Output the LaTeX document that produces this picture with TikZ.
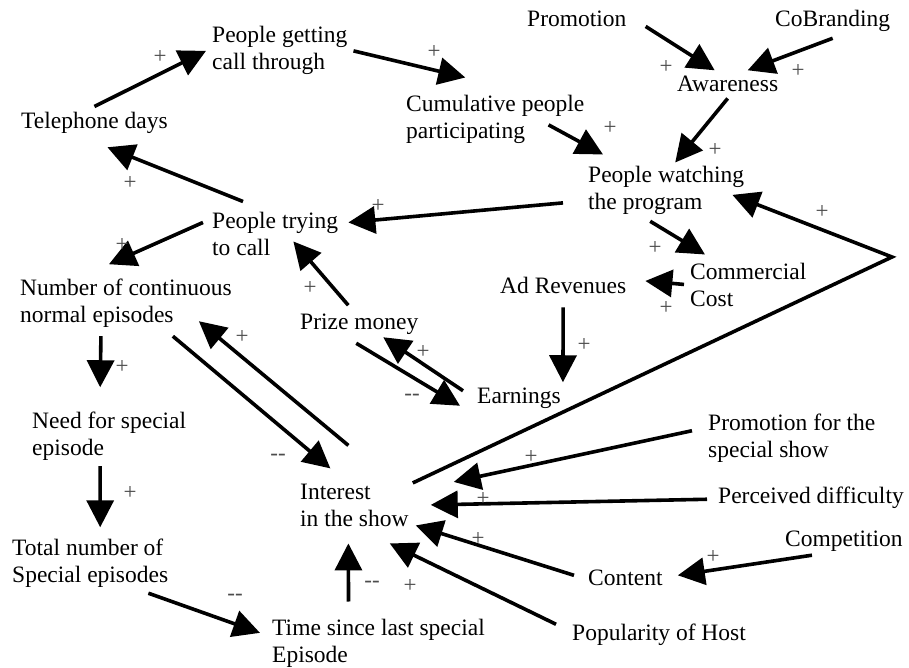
\documentclass[tikz,border=0pt]{standalone}
\usepackage{fontspec}
\setmainfont{Liberation Serif}
\usetikzlibrary{arrows.meta}

\begin{document}
\begin{tikzpicture}[x=1pt,y=-1pt,
	var/.style={anchor=base west, align=left, inner sep=6pt, font=\fontsize{23.5}{27}\selectfont},
	link/.style={-{Triangle[length=27pt,width=27pt]}, line width=3.6pt},
	sign/.style={inner sep=0pt, text=black!70, font=\fontsize{23}{23}\selectfont}]
	\useasboundingbox (0,0) rectangle (909,668);
%
	\node[var] (tel) at (15,129) {Telephone days};
	\node[var] (get) at (206,70) {People getting\\call through};
	\node[var] (cum) at (400,139) {Cumulative people\\participating};
	\node[var] (pro) at (521,27) {Promotion};
	\node[var] (cob) at (769,27) {CoBranding};
	\node[var] (awa) at (671,92) {Awareness};
	\node[var] (wat) at (582,210) {People watching\\the program};
	\node[var] (try) at (206,255) {People trying\\to call};
	\node[var] (com) at (684,306) {Commercial\\Cost};
	\node[var] (adr) at (494,293) {Ad Revenues};
	\node[var] (num) at (14,322) {Number of continuous\\normal episodes};
	\node[var] (pri) at (294,329) {Prize money};
	\node[var] (ear) at (471,403) {Earnings};
	\node[var] (nee) at (26,455) {Need for special\\episode};
	\node[var] (tot) at (6,582) {Total number of\\Special episodes};
	\node[var] (int) at (294,526) {Interest\\in the show};
	\node[var] (tim) at (266,662) {Time since last special\\Episode};
	\node[var] (pss) at (702,457) {Promotion for the\\special show};
	\node[var] (dif) at (712,503) {Perceived difficulty};
	\node[var] (cpt) at (779,546) {Competition};
	\node[var] (con) at (582,585) {Content};
	\node[var] (pop) at (566,640) {Popularity of Host};
	\coordinate (bend) at (892,257);
%
	\draw[link] (tel.north) -- (get.west);
	\draw[link] (get.east) -- ([shift={(-30,-12)}]cum.north);
	\draw[link] ([shift={(-42,5)}]cum.east) -- ([shift={(21,-6)}]wat.north west);
	\draw[link] ([shift={(13,-7)}]pro.south east) -- ([shift={(-13,0)}]awa.north);
	\draw[link] (cob.south) -- ([shift={(20,0)}]awa.north);
	\draw[link] (awa.south) -- ([shift={(9,2)}]wat.north);
	\draw[link] ([shift={(-19,12)}]wat.west) -- ([shift={(4,-11)}]try.east);
	\draw[link] ([shift={(37,-4)}]try.north west) -- ([shift={(13,7)}]tel.south);
	\draw[link] ([shift={(-3,-11)}]try.west) -- ([shift={(-17,-8)}]num.north);
	\draw[link] ([shift={(-11,-2)}]pri.north) -- ([shift={(-51,8)}]try.east);
	\draw[link] ([shift={(-16,0)}]wat.south) -- ([shift={(21,-2)}]com.north west);
	\draw[link] (com.west) -- ([shift={(13,-4)}]adr.east);
	\draw[link] ([shift={(0,8)}]adr.south) -- ([shift={(-4,1)}]ear.north east);
	\draw[link] ([shift={(-8,-7)}]ear.west) -- ([shift={(24,-3)}]pri.south);
	\draw[link] ([shift={(-3,3)}]pri.south) -- ([shift={(-11,8)}]ear.west);
	\draw[link] ([shift={(-65,3)}]num.south east) -- ([shift={(-24,-9)}]int.north);
	\draw[link] ([shift={(-6,-32)}]int.north) -- ([shift={(-39,-12)}]num.south east);
	\draw[link] ([shift={(-25,3)}]num.south) -- ([shift={(-9,-18)}]nee.north);
	\draw[link] ([shift={(-9,0)}]nee.south) -- ([shift={(10,-5)}]tot.north);
	\draw[link] ([shift={(-26,0)}]tot.south east) -- ([shift={(-6,-10)}]tim.west);
	\draw[link] ([shift={(-30,-11)}]tim.north) -- ([shift={(-6,11)}]int.south);
	\draw[link] ([shift={(-2,-22)}]int.east) -- (bend) -- ([shift={(-18,4)}]wat.east);
	\draw[link] ([shift={(-10,-7)}]pss.west) -- ([shift={(39,-23)}]int.east);
	\draw[link] ([shift={(-5,2)}]dif.west) -- ([shift={(16,0)}]int.east);
	\draw[link] ([shift={(-8,-2)}]con.west) -- ([shift={(1,-7)}]int.south east);
	\draw[link] ([shift={(-10,7)}]pop.north west) -- ([shift={(-25,11)}]int.south east);
	\draw[link] ([shift={(-32,-2)}]cpt.south) -- ([shift={(9,-2)}]con.east);
%
	\node[sign] (s-telget) at (160,57) {+};
	\node[sign] (s-getcum) at (434,52) {+};
	\node[sign] (s-cumwat) at (610,128) {+};
	\node[sign] (s-proawa) at (666,67) {+};
	\node[sign] (s-cobawa) at (798,71) {+};
	\node[sign] (s-awawat) at (715,150) {+};
	\node[sign] (s-wattry) at (378,206) {+};
	\node[sign] (s-trytel) at (130,183) {+};
	\node[sign] (s-trynum) at (122,245) {+};
	\node[sign] (s-pritry) at (310,288) {+};
	\node[sign] (s-watcom) at (655,248) {+};
	\node[sign] (s-comadr) at (666,308) {+};
	\node[sign] (s-adrear) at (584,345) {+};
	\node[sign] (s-earpri) at (423,352) {+};
	\node[sign] (s-priear) at (412,397) {-{}-};
	\node[sign] (s-numint) at (278,457) {-{}-};
	\node[sign] (s-intnum) at (242,337) {+};
	\node[sign] (s-numnee) at (122,367) {+};
	\node[sign] (s-neetot) at (130,493) {+};
	\node[sign] (s-tottim) at (235,597) {-{}-};
	\node[sign] (s-timint) at (372,584) {-{}-};
	\node[sign] (s-intwat) at (822,212) {+};
	\node[sign] (s-pssint) at (531,457) {+};
	\node[sign] (s-difint) at (483,499) {+};
	\node[sign] (s-conint) at (478,539) {+};
	\node[sign] (s-popint) at (410,586) {+};
	\node[sign] (s-cptcon) at (713,557) {+};
\end{tikzpicture}
\end{document}
